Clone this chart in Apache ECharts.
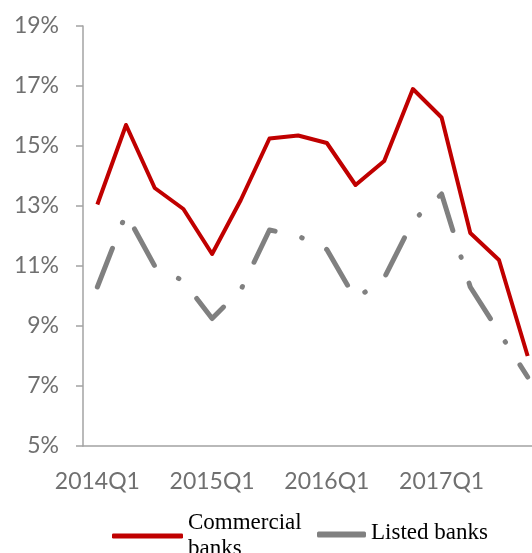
<!doctype html>
<html lang="en">
<head>
<meta charset="UTF-8">
<title>Commercial vs listed banks</title>
<style>html,body{margin:0;padding:0;background:#fff;overflow:hidden}</style>
</head>
<body>
<div id="myChart" style="width:532px;height:553px"></div>
<script src="https://cdn.jsdelivr.net/npm/echarts@6/dist/echarts.min.js"></script>
<script>
var quarters = ['2014Q1','2014Q2','2014Q3','2014Q4','2015Q1','2015Q2','2015Q3','2015Q4',
                '2016Q1','2016Q2','2016Q3','2016Q4','2017Q1','2017Q2','2017Q3','2017Q4'];
var commercial = [13.05, 15.7, 13.6, 12.9, 11.4, 13.2, 15.25, 15.35, 15.1, 13.7, 14.5, 16.9, 15.95, 12.1, 11.2, 8.0];
var listed = [10.3, 12.75, 11.0, 10.5, 9.25, 10.2, 12.2, 12.0, 11.55, 9.9, 10.6, 12.5, 13.4, 10.3, 8.8, 7.3];
var yTicks = [5, 7, 9, 11, 13, 15, 17, 19];

var axisColor = '#a3a3a3';
var labelStyle = { fontFamily: 'Lato', fontSize: 23, color: '#707070' };
var legendText = { fontFamily: 'Liberation Serif', fontSize: 23, lineHeight: 24, color: '#000' };

var myChart = echarts.init(document.getElementById('myChart'));
var option = {
    animation: false,
    backgroundColor: '#fff',
    // plot runs past the right edge, like the cropped original
    grid: { left: 83, width: 459, top: 26, bottom: 107, outerBoundsMode: 'none', containLabel: false },
    legend: [
        {
            data: ['Commercial banks'],
            left: 107, top: 505,
            itemWidth: 71, itemHeight: 5,
            icon: 'roundRect',
            itemStyle: { borderWidth: 0 },
            formatter: function () { return 'Commercial\nbanks'; },
            textStyle: Object.assign({}, legendText, { lineHeight: 26 })
        },
        {
            data: ['Listed banks'],
            left: 312, top: 516,
            itemWidth: 49, itemHeight: 6,
            icon: 'roundRect',
            itemStyle: { borderWidth: 0 },
            // text sits a little above the swatch in the original
            formatter: function (name) { return '{t|' + name + '}'; },
            textStyle: {
                rich: { t: Object.assign({ padding: [0, 0, 4, 0] }, legendText) }
            }
        }
    ],
    xAxis: {
        type: 'category',
        data: quarters,
        boundaryGap: true,
        axisLine: { lineStyle: { color: axisColor, width: 1.5 } },
        axisTick: { alignWithLabel: true, interval: 0, length: 6, lineStyle: { color: axisColor, width: 1.5 } },
        axisLabel: Object.assign({ interval: 3, margin: 24 }, labelStyle),
        splitLine: { show: false }
    },
    yAxis: {
        type: 'value',
        min: 5, max: 19,
        axisLine: { show: true, lineStyle: { color: axisColor, width: 1.5 } },
        axisTick: { show: true, length: 7, customValues: yTicks, lineStyle: { color: axisColor, width: 1.5 } },
        axisLabel: Object.assign({ customValues: yTicks, formatter: '{value}%', margin: 24 }, labelStyle),
        splitLine: { show: false }
    },
    series: [
        {
            name: 'Commercial banks',
            type: 'line',
            data: commercial,
            symbol: 'none',
            color: '#c00000',
            lineStyle: { width: 4, color: '#c00000', join: 'round' }
        },
        {
            name: 'Listed banks',
            type: 'line',
            data: listed,
            symbol: 'none',
            color: '#808080',
            lineStyle: { width: 5, color: '#808080', type: [41.5, 27.5, 0.5, 27], cap: 'round', join: 'round' }
        }
    ]
};
myChart.setOption(option);
</script>
</body>
</html>
